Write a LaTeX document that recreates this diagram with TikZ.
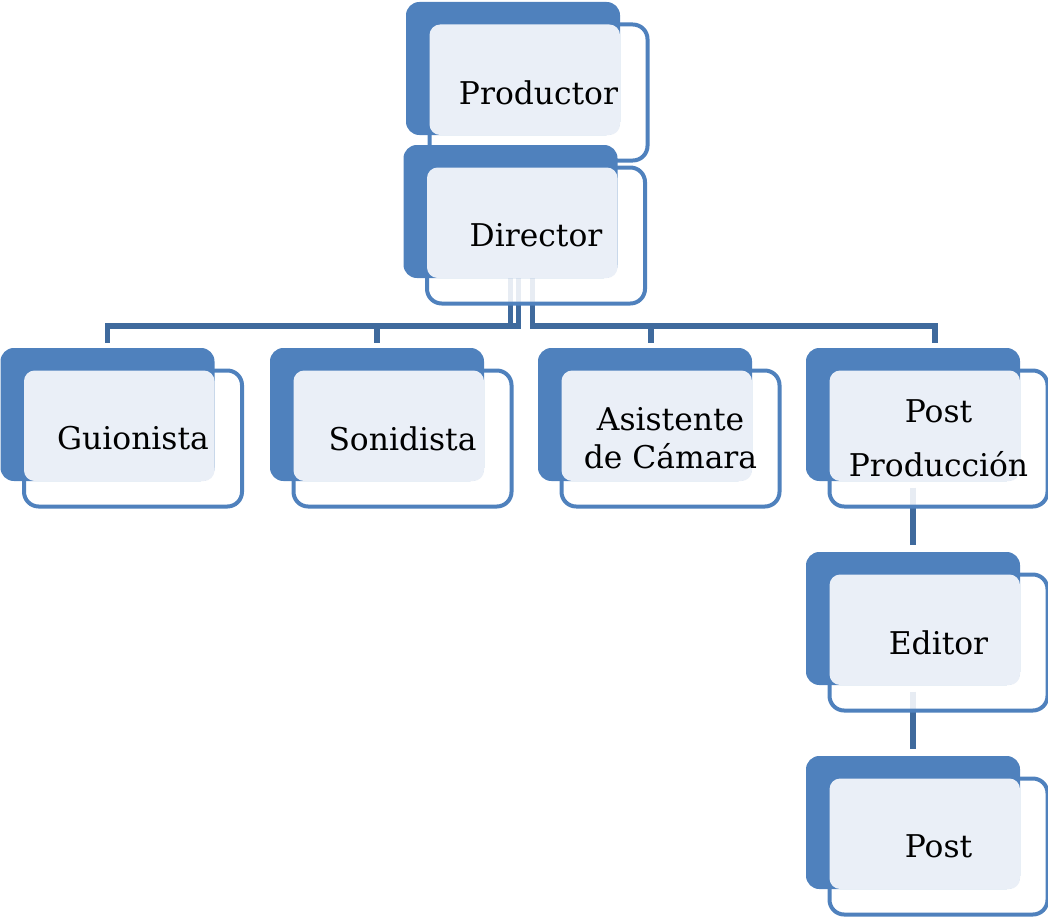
\documentclass[tikz,border=0pt]{standalone}
\usepackage{fontspec}
\setmainfont{DejaVu Serif}
\usetikzlibrary{positioning}
\pgfdeclarelayer{background}
\pgfsetlayers{background,main}
\definecolor{accent}{HTML}{4F81BD}
\definecolor{tint}{HTML}{EAEFF7}
\definecolor{wireblue}{HTML}{3F6A9D}

\begin{document}
\begin{tikzpicture}[x=0.75pt,y=-0.75pt]
  \tikzstyle{backbox}=[rectangle,rounded corners=10pt,fill=accent,minimum width=160.5pt,minimum height=99.75pt,inner sep=0pt,outer sep=0pt]
  \tikzstyle{frontbox}=[rectangle,rounded corners=11pt,draw=accent,line width=3pt,fill=white,fill opacity=0.88,minimum width=163.5pt,minimum height=102pt,inner sep=0pt,outer sep=0pt]
  \tikzstyle{roletext}=[align=center,font=\fontsize{23.5}{28.5}\selectfont,inner sep=0pt]
  \tikzstyle{wire}=[draw=wireblue,line width=4pt]

  \useasboundingbox (0,0) rectangle (1048,917);

  \foreach \name/\x/\y/\txt in {prod/513/68.5/Productor, dir/510.5/211.5/Director,
      guion/107.5/414.5/Guionista, sonid/377/414.5/Sonidista,
      asist/645/414.5/{Asistente\\de Cámara}, postp/913/414.5/{Post\\[12pt]Producción},
      edit/913/618.5/Editor, post/913/822.5/Post}
  {
    \node[frontbox] (\name-f) at (\x+25.5,\y+24) {};
    \node[backbox] (\name-b) at (\x,\y) {};
    \fill[tint,rounded corners=8pt] (\name-f.north west) rectangle (\name-b.south east);
    \node[roletext] (\name) at (\name-f) {\txt};
  }

  \begin{pgfonlayer}{background}
    \coordinate (bus) at (0,326);
    \foreach \to/\a/\b in {guion/0/0, sonid/8/0, asist/22/6, postp/22/22}
      \draw[wire,shorten >=3.75pt] ([xshift=\a*0.75pt]dir-b.south) -- ([xshift=\a*0.75pt]dir-b.south |- bus) -| ([xshift=\b*0.75pt]\to-b.north);
    \draw[wire,shorten <=5pt,shorten >=5pt] (postp-b.south) -- (edit-b.north);
    \draw[wire,shorten <=5pt,shorten >=5pt] (edit-b.south) -- (post-b.north);
  \end{pgfonlayer}
\end{tikzpicture}
\end{document}
